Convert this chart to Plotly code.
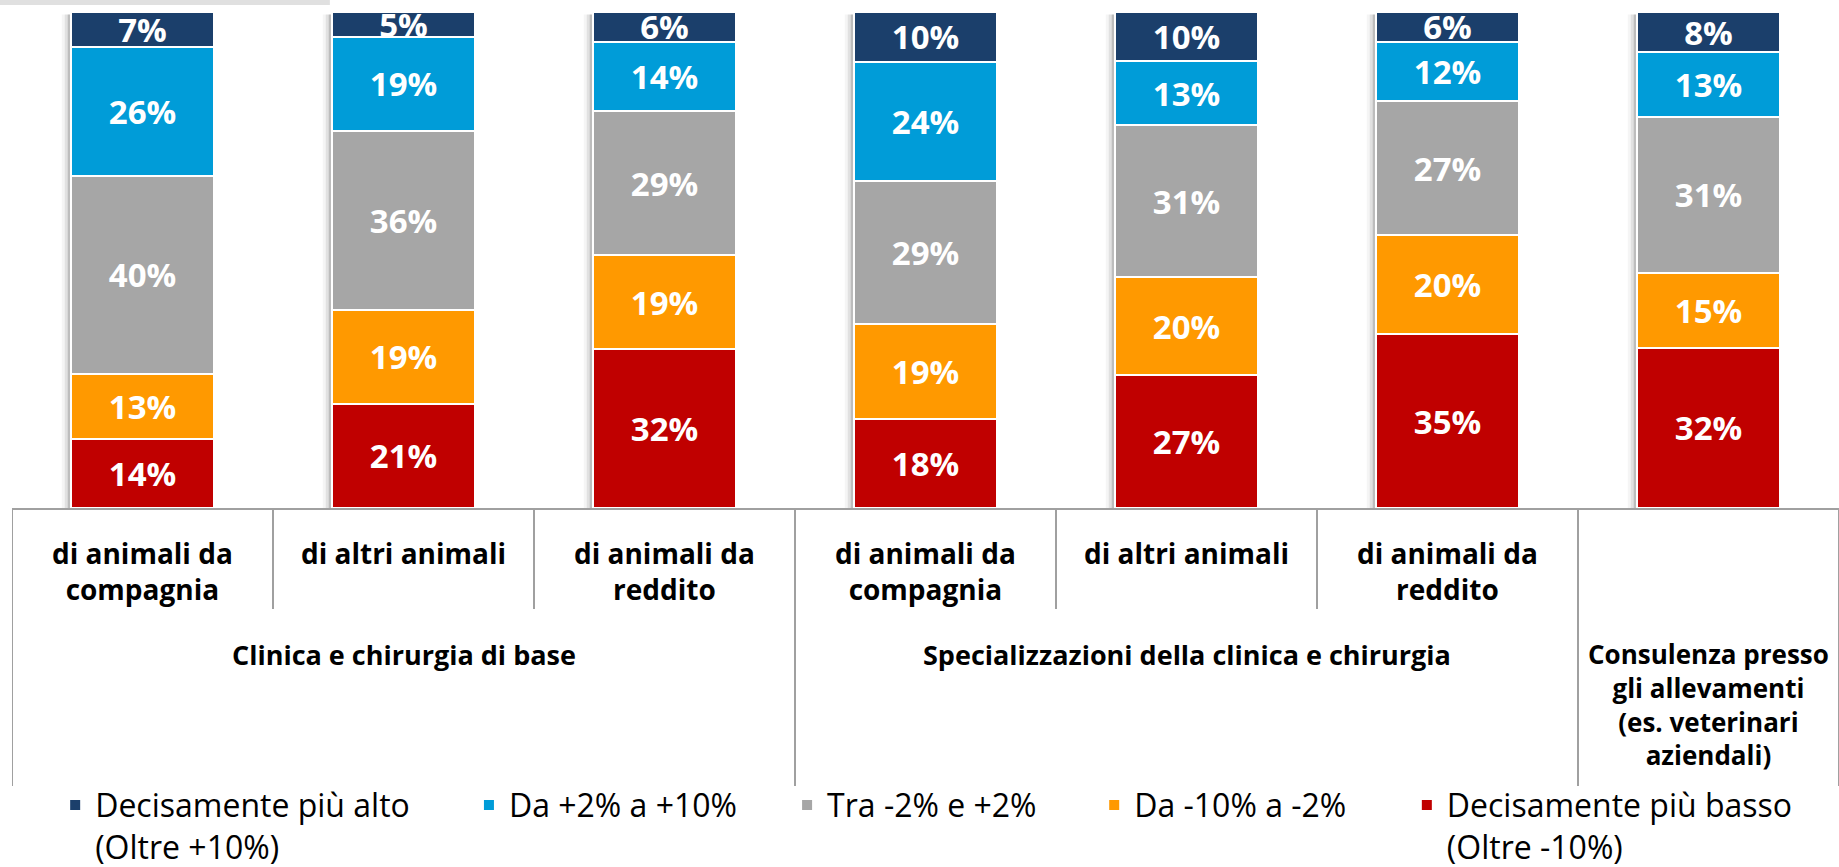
import plotly.graph_objects as go

# Categories (inner row) and their groups (outer row)
sub_labels = [
    'di animali da<br>compagnia', 'di altri animali', 'di animali da<br>reddito',
    'di animali da<br>compagnia', 'di altri animali', 'di animali da<br>reddito',
    '',
]
group_labels = [
    'Clinica e chirurgia di base', 'Clinica e chirurgia di base', 'Clinica e chirurgia di base',
    'Specializzazioni della clinica e chirurgia', 'Specializzazioni della clinica e chirurgia',
    'Specializzazioni della clinica e chirurgia',
    'Consulenza presso<br>gli allevamenti<br>(es. veterinari<br>aziendali)',
]

# Series values (%), as printed on the bars
decisamente_alto = [7, 5, 6, 10, 10, 6, 8]
da_piu2_a_piu10 = [26, 19, 14, 24, 13, 12, 13]
tra_meno2_e_piu2 = [40, 36, 29, 29, 31, 27, 31]
da_meno10_a_meno2 = [13, 19, 19, 19, 20, 20, 15]
decisamente_basso = [14, 21, 32, 18, 27, 35, 32]

x = list(range(len(sub_labels)))

# Bottom to top stacking order, with the legend each entry sits in
series = [
    ('Decisamente più basso<br>(Oltre -10%)', decisamente_basso, '#C00000', 'legend5'),
    ('Da -10% a -2%', da_meno10_a_meno2, '#FF9900', 'legend4'),
    ('Tra -2% e +2%', tra_meno2_e_piu2, '#A6A6A6', 'legend3'),
    ('Da +2% a +10%', da_piu2_a_piu10, '#009CD8', 'legend2'),
    ('Decisamente più alto<br>(Oltre +10%)', decisamente_alto, '#1B3F6B', 'legend'),
]

bar_width = 0.55

fig = go.Figure()

for name, values, color, legend in series:
    fig.add_trace(go.Bar(
        x=x,
        y=values,
        name=name,
        legend=legend,
        showlegend=True,
        width=bar_width,
        marker=dict(color=color, line=dict(color='white', width=2)),
        text=[f'{v}%' for v in values],
        textposition='inside',
        insidetextanchor='middle',
        textfont=dict(color='white', size=33, family='Open Sans', weight='bold'),
        hoverinfo='skip',
    ))

# Plot area is 496px high (y=12..508), one category is ~261px wide
inner_bottom = -0.2036
outer_bottom = -0.5605
px = 1 / 261

shapes = []
for i in range(len(x) + 1):
    left = group_labels[i - 1] if i > 0 else None
    right = group_labels[i] if i < len(x) else None
    long_line = left != right
    shapes.append(dict(
        type='line', xref='x', yref='paper',
        x0=i - 0.5, x1=i - 0.5, y0=0, y1=outer_bottom if long_line else inner_bottom,
        line=dict(color='#A0A0A0', width=2),
    ))

# Soft drop shadow on the left side of each bar
for i in x:
    edge = i - bar_width / 2
    for off, alpha in [(3, 0.16), (6, 0.08), (9, 0.04)]:
        shapes.append(dict(
            type='rect', xref='x', yref='paper', layer='below',
            x0=edge - off * px, x1=edge, y0=0, y1=0.995,
            fillcolor=f'rgba(0,0,0,{alpha})', line=dict(width=0),
        ))

# Soft shadow band at the top-left corner
shapes.append(dict(
    type='rect', xref='paper', yref='paper',
    x0=-0.0066, x1=0.174, y0=1.014, y1=1.03,
    fillcolor='rgba(0,0,0,0.12)', line=dict(width=0), layer='below',
))

annotations = []
for i, label in enumerate(sub_labels):
    if label:
        annotations.append(dict(
            x=i, y=-0.048, xref='x', yref='paper',
            text=label, showarrow=False, yanchor='top', xanchor='center',
            font=dict(size=28, color='black', family='Open Sans', weight='bold'),
        ))

seen = []
for g in group_labels:
    if g not in seen:
        seen.append(g)
for g in seen:
    idx = [i for i, v in enumerate(group_labels) if v == g]
    annotations.append(dict(
        x=sum(idx) / len(idx), y=-0.255, xref='x', yref='paper',
        text=g, showarrow=False, yanchor='top', xanchor='center',
        font=dict(size=27 if '<br>' not in g else 26, color='black',
                  family='Open Sans', weight='bold'),
    ))

legend_style = dict(
    orientation='h', xref='container', yref='container',
    yanchor='top', y=0.103, xanchor='left',
    font=dict(size=32, color='black', family='Open Sans'),
    bgcolor='rgba(0,0,0,0)', valign='top', traceorder='normal',
)

fig.update_layout(
    width=1839,
    height=867,
    barmode='stack',
    barnorm='percent',
    plot_bgcolor='white',
    paper_bgcolor='white',
    margin=dict(l=12, r=0, t=12, b=359, autoexpand=False),
    font=dict(family='Open Sans'),
    showlegend=True,
    uniformtext=dict(minsize=33, mode='show'),
    xaxis=dict(
        range=[-0.5, 6.5], showticklabels=False, showgrid=False, zeroline=False,
        showline=True, linecolor='#A0A0A0', linewidth=2, fixedrange=True,
    ),
    yaxis=dict(range=[0, 100], visible=False, fixedrange=True),
    shapes=shapes,
    annotations=annotations,
    legend=dict(legend_style, x=0.030),
    legend2=dict(legend_style, x=0.255),
    legend3=dict(legend_style, x=0.428),
    legend4=dict(legend_style, x=0.595),
    legend5=dict(legend_style, x=0.765),
)

fig.write_html(
    'out.html',
    config={'displayModeBar': False},
    post_script="document.body.style.margin='0';",
)
